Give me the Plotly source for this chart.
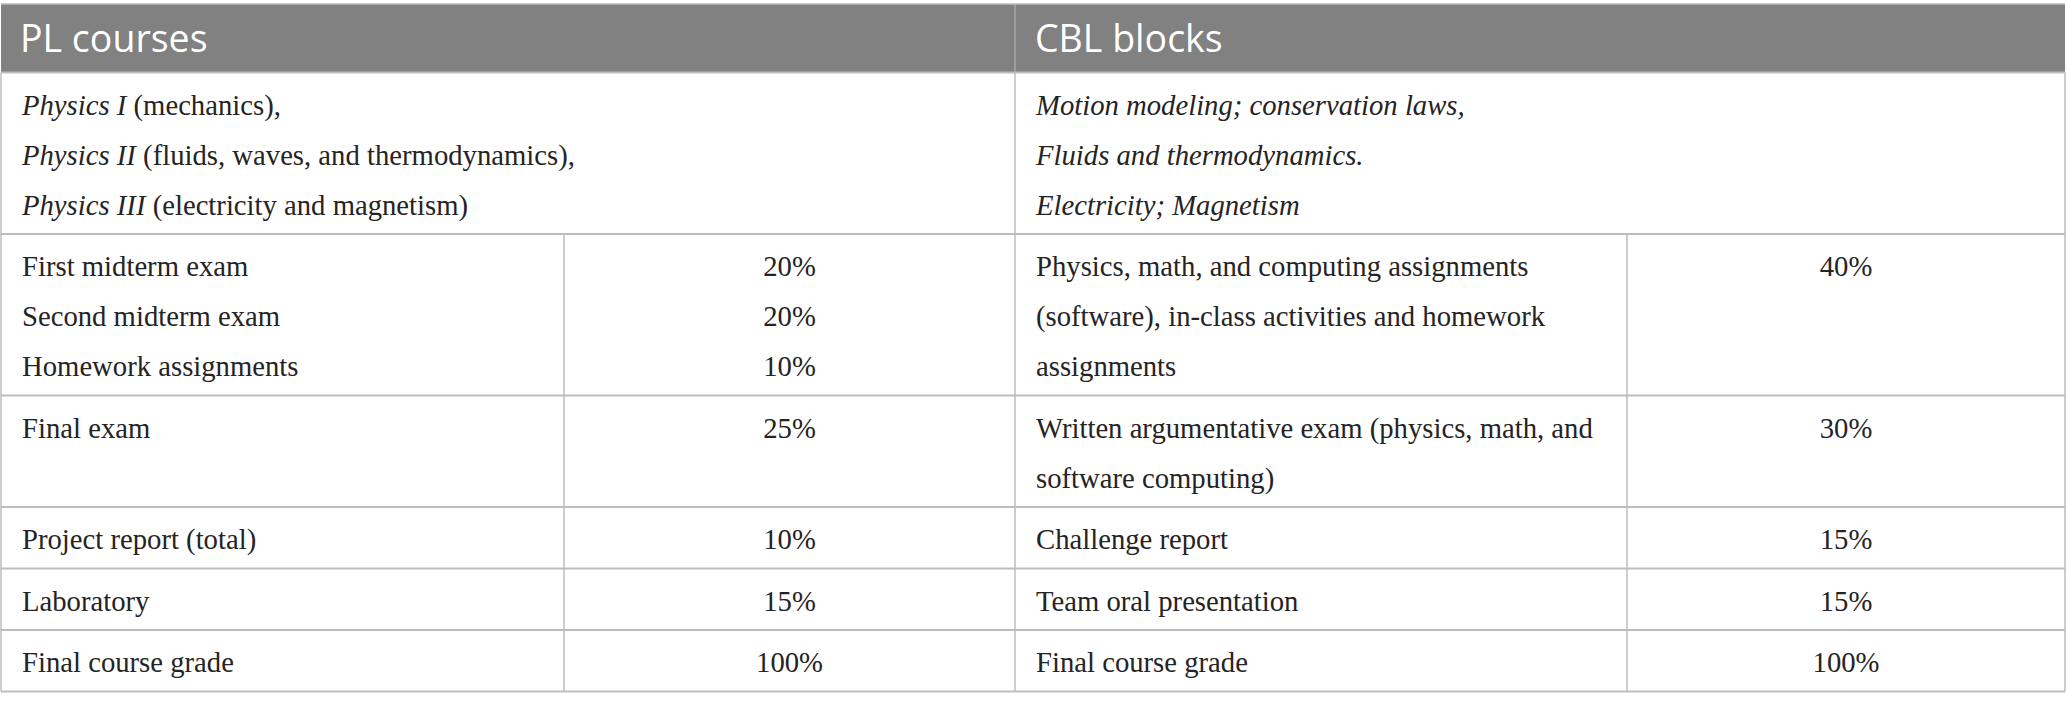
import plotly.graph_objects as go

# ----- table content -----
headers = ["PL courses", "CBL blocks"]

pl_topics = ["<i>Physics I</i> (mechanics),",
             "<i>Physics II</i> (fluids, waves, and thermodynamics),",
             "<i>Physics III</i> (electricity and magnetism)"]
cbl_topics = ["<i>Motion modeling; conservation laws,</i>",
              "<i>Fluids and thermodynamics.</i>",
              "<i>Electricity; Magnetism</i>"]

pl_items = [["First midterm exam", "Second midterm exam", "Homework assignments"],
            ["Final exam"],
            ["Project report (total)"],
            ["Laboratory"],
            ["Final course grade"]]
pl_weights = [["20%", "20%", "10%"],
              ["25%"],
              ["10%"],
              ["15%"],
              ["100%"]]

cbl_items = [["Physics, math, and computing assignments",
              "(software), in-class activities and homework",
              "assignments"],
             ["Written argumentative exam (physics, math, and",
              "software computing)"],
             ["Challenge report"],
             ["Team oral presentation"],
             ["Final course grade"]]
cbl_weights = [["40%"], ["30%"], ["15%"], ["15%"], ["100%"]]

# ----- layout constants (pixels) -----
W, H = 2067, 710
col_x = [1, 564, 1015, 1627, 2065]
top_y = 4
header_bottom = 72.5
pitch = 50
first_off = 35
pad = 21
serif = "Liberation Serif"
body_size = 28.7
text_col = "#262324"
line_col = "#bdbdbd"
head_bg = "#808180"

# row heights from line counts
row_lines = [len(pl_topics)] + [max(len(a), len(b)) for a, b in zip(pl_items, cbl_items)]
row_tops = [header_bottom]
for n in row_lines:
    row_tops.append(row_tops[-1] + 11.5 + pitch * n)

fig = go.Figure()


def add_text(xs, ys, texts, pos, size=body_size, family=serif, color=text_col):
    fig.add_trace(go.Scatter(
        x=xs, y=ys, text=texts, mode="text", textposition=pos,
        textfont=dict(family=family, size=size, color=color),
        hoverinfo="skip", showlegend=False,
    ))


# header
add_text([col_x[0] + pad - 2, col_x[2] + pad - 1], [(top_y + header_bottom) / 2 + 4] * 2,
         headers, "middle right", size=37.5, family="Open Sans", color="white")

# topic row (spans two columns on each side)
ys = [row_tops[0] + first_off + pitch * i for i in range(len(pl_topics))]
add_text([col_x[0] + pad] * len(pl_topics), ys, pl_topics, "middle right")
add_text([col_x[2] + pad] * len(cbl_topics), ys, cbl_topics, "middle right")

# assessment rows
for r in range(len(pl_items)):
    top = row_tops[r + 1]
    for items, weights, left, right in [(pl_items[r], pl_weights[r], col_x[0], col_x[1]),
                                        (cbl_items[r], cbl_weights[r], col_x[2], col_x[3])]:
        yi = [top + first_off + pitch * i for i in range(len(items))]
        add_text([left + pad] * len(items), yi, items, "middle right")
        yw = [top + first_off + pitch * i for i in range(len(weights))]
        nxt = col_x[col_x.index(right) + 1]
        add_text([(right + nxt) / 2] * len(weights), yw, weights, "middle center")

# grid
shapes = [dict(type="rect", x0=col_x[0], x1=col_x[-1], y0=top_y, y1=header_bottom,
               fillcolor=head_bg, line=dict(width=0), layer="below")]
shapes.append(dict(type="line", x0=col_x[2], x1=col_x[2], y0=top_y, y1=header_bottom,
                   line=dict(color="#a8a8a8", width=1.5)))
shapes.append(dict(type="line", x0=col_x[0], x1=col_x[-1], y0=top_y, y1=top_y,
                   line=dict(color=line_col, width=1.5)))
for y in row_tops:
    shapes.append(dict(type="line", x0=col_x[0], x1=col_x[-1], y0=y, y1=y,
                       line=dict(color=line_col, width=2)))
for x in [col_x[0], col_x[2], col_x[-1]]:
    shapes.append(dict(type="line", x0=x, x1=x, y0=header_bottom, y1=row_tops[-1],
                       line=dict(color=line_col, width=1.5)))
for x in [col_x[1], col_x[3]]:
    shapes.append(dict(type="line", x0=x, x1=x, y0=row_tops[1], y1=row_tops[-1],
                       line=dict(color=line_col, width=1.5)))

fig.update_layout(
    width=W, height=H,
    margin=dict(l=0, r=0, t=0, b=0),
    paper_bgcolor="white", plot_bgcolor="white",
    shapes=shapes,
    xaxis=dict(range=[0, W], visible=False, fixedrange=True),
    yaxis=dict(range=[H, 0], visible=False, fixedrange=True),
)

fig.write_html("out.html", config={"displayModeBar": False},
               post_script="document.body.style.margin='0';")
